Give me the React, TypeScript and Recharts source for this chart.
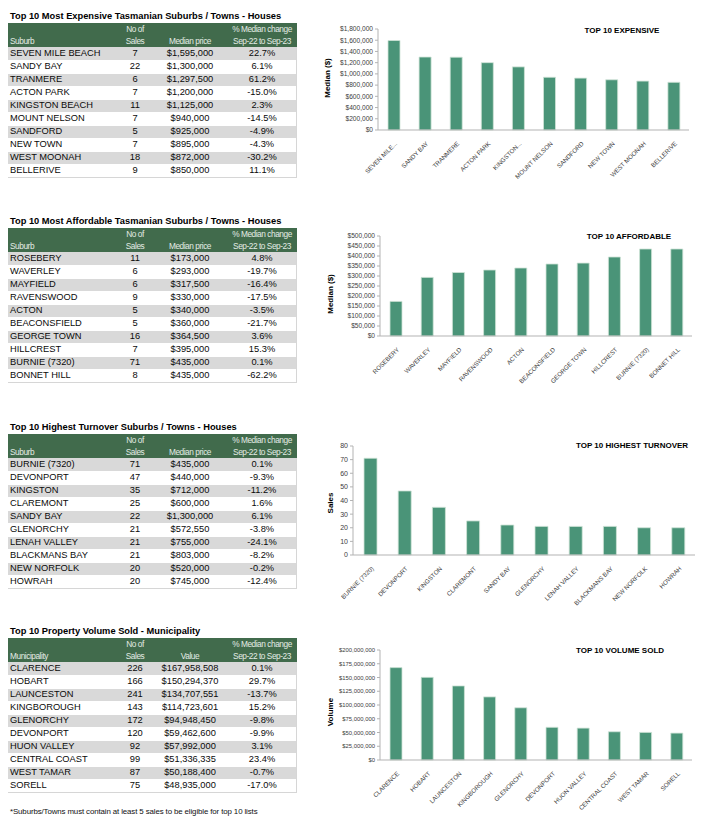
import React from 'react';
import { BarChart, Bar, XAxis, YAxis } from 'recharts';

// ---- data ----
const expensiveSuburbs = ['SEVEN MILE BEACH', 'SANDY BAY', 'TRANMERE', 'ACTON PARK', 'KINGSTON BEACH', 'MOUNT NELSON', 'SANDFORD', 'NEW TOWN', 'WEST MOONAH', 'BELLERIVE'];
const expensiveTickLabels = ['SEVEN MILE...', 'SANDY BAY', 'TRANMERE', 'ACTON PARK', 'KINGSTON...', 'MOUNT NELSON', 'SANDFORD', 'NEW TOWN', 'WEST MOONAH', 'BELLERIVE'];
const expensiveSales = [7, 22, 6, 7, 11, 7, 5, 7, 18, 9];
const expensivePrices = [1595000, 1300000, 1297500, 1200000, 1125000, 940000, 925000, 895000, 872000, 850000];
const expensiveChange = ['22.7%', '6.1%', '61.2%', '-15.0%', '2.3%', '-14.5%', '-4.9%', '-4.3%', '-30.2%', '11.1%'];

const affordableSuburbs = ['ROSEBERY', 'WAVERLEY', 'MAYFIELD', 'RAVENSWOOD', 'ACTON', 'BEACONSFIELD', 'GEORGE TOWN', 'HILLCREST', 'BURNIE (7320)', 'BONNET HILL'];
const affordableSales = [11, 6, 6, 9, 5, 5, 16, 7, 71, 8];
const affordablePrices = [173000, 293000, 317500, 330000, 340000, 360000, 364500, 395000, 435000, 435000];
const affordableChange = ['4.8%', '-19.7%', '-16.4%', '-17.5%', '-3.5%', '-21.7%', '3.6%', '15.3%', '0.1%', '-62.2%'];

const turnoverSuburbs = ['BURNIE (7320)', 'DEVONPORT', 'KINGSTON', 'CLAREMONT', 'SANDY BAY', 'GLENORCHY', 'LENAH VALLEY', 'BLACKMANS BAY', 'NEW NORFOLK', 'HOWRAH'];
const turnoverSales = [71, 47, 35, 25, 22, 21, 21, 21, 20, 20];
const turnoverPrices = [435000, 440000, 712000, 600000, 1300000, 572550, 755000, 803000, 520000, 745000];
const turnoverChange = ['0.1%', '-9.3%', '-11.2%', '1.6%', '6.1%', '-3.8%', '-24.1%', '-8.2%', '-0.2%', '-12.4%'];

const volumeMunicipalities = ['CLARENCE', 'HOBART', 'LAUNCESTON', 'KINGBOROUGH', 'GLENORCHY', 'DEVONPORT', 'HUON VALLEY', 'CENTRAL COAST', 'WEST TAMAR', 'SORELL'];
const volumeSales = [226, 166, 241, 143, 172, 120, 92, 99, 87, 75];
const volumeValues = [167958508, 150294370, 134707551, 114723601, 94948450, 59462600, 57992000, 51336335, 50188400, 48935000];
const volumeChange = ['0.1%', '29.7%', '-13.7%', '15.2%', '-9.8%', '-9.9%', '3.1%', '23.4%', '-0.7%', '-17.0%'];

const expensiveTicks = [0, 200000, 400000, 600000, 800000, 1000000, 1200000, 1400000, 1600000, 1800000];
const affordableTicks = [0, 50000, 100000, 150000, 200000, 250000, 300000, 350000, 400000, 450000, 500000];
const turnoverTicks = [0, 10, 20, 30, 40, 50, 60, 70, 80];
const volumeTicks = [0, 25000000, 50000000, 75000000, 100000000, 125000000, 150000000, 175000000, 200000000];

const GREEN = '#416B4C';
const BAR = '#4A9478';
const FONT = '"Liberation Sans", Arial, sans-serif';

const money = (v: number) => '$' + v.toLocaleString('en-US');

const Table = ({ top, title, firstHeader, valueHeader, names, sales, values, changes }: any) => (
  <div style={{ position: 'absolute', left: 8, top, width: 289, fontFamily: FONT }}>
    <div style={{ position: 'absolute', left: 2, top: -12, fontSize: 9.3, fontWeight: 'bold', lineHeight: '11px', whiteSpace: 'nowrap', color: '#000' }}>
      {title}
    </div>
    <div style={{ position: 'relative', height: 24, background: GREEN, color: '#e4ebe5', fontSize: 8.3, letterSpacing: -0.45, lineHeight: '12px' }}>
      <span style={{ position: 'absolute', left: 2, top: 12 }}>{firstHeader}</span>
      <span style={{ position: 'absolute', left: 97, width: 60, textAlign: 'center', top: 0 }}>No of<br />Sales</span>
      <span style={{ position: 'absolute', left: 142, width: 80, textAlign: 'center', top: 12 }}>{valueHeader}</span>
      <span style={{ position: 'absolute', left: 204, width: 100, textAlign: 'center', top: 0 }}>% Median change<br />Sep-22 to Sep-23</span>
    </div>
    <div style={{ borderRight: '1px solid #d6d6d6', borderBottom: '1px solid #d6d6d6' }}>
      {names.map((n: string, i: number) => (
        <div key={n} style={{ position: 'relative', height: 13, background: i % 2 === 0 ? '#D9D9D9' : '#fff', borderTop: i > 0 ? '1px solid #fff' : 'none', boxSizing: 'border-box', fontSize: 9.3, lineHeight: '13px', color: '#0a0a0a' }}>
          <span style={{ position: 'absolute', left: 2, top: i > 0 ? -1 : 0 }}>{n}</span>
          <span style={{ position: 'absolute', left: 97, width: 60, textAlign: 'center', top: i > 0 ? -1 : 0 }}>{sales[i]}</span>
          <span style={{ position: 'absolute', left: 137, width: 90, textAlign: 'center', top: i > 0 ? -1 : 0 }}>{money(values[i])}</span>
          <span style={{ position: 'absolute', left: 214, width: 80, textAlign: 'center', top: i > 0 ? -1 : 0 }}>{changes[i]}</span>
        </div>
      ))}
    </div>
  </div>
);

const SlantTick = ({ x, y, payload }: any) => (
  <text transform={`translate(${x + 4},${y + 6}) rotate(-45)`} textAnchor="end" fontSize={6.2} fill="#404040" fontFamily={FONT}>
    {payload.value}
  </text>
);

const ChartPanel = ({ top, plotTop, plotBottom, yWidth, rightEdge, labels, values, ticks, fmt, barSize, tickFont, title, titleX, titleY, yLabel, yLabelX, yLabelY }: any) => {
  const height = 190;
  const data = labels.map((l: string, i: number) => ({ label: l, value: values[i] }));
  return (
    <>
      <div style={{ position: 'absolute', left: 320, top }}>
        <BarChart width={389} height={height} data={data} margin={{ top: plotTop, right: 709 - rightEdge, left: 0, bottom: 0 }} barSize={barSize}>
          <XAxis dataKey="label" interval={0} height={height - plotBottom} tick={<SlantTick />} tickLine={false} axisLine={{ stroke: '#b3b3b3' }} />
          <YAxis
            width={yWidth}
            domain={[ticks[0], ticks[ticks.length - 1]]}
            ticks={ticks}
            interval={0}
            tickFormatter={fmt}
            tickSize={3}
            tickLine={{ stroke: '#b3b3b3' }}
            axisLine={{ stroke: '#b3b3b3' }}
            tick={{ fontSize: tickFont, fill: '#404040', fontFamily: FONT }}
          />
          <Bar dataKey="value" fill={BAR} stroke="#cfe3d7" strokeWidth={0.8} isAnimationActive={false} />
        </BarChart>
      </div>
      <div style={{ position: 'absolute', left: titleX, top: titleY, transform: 'translate(-50%,-50%)', fontFamily: FONT, fontSize: 8, fontWeight: 'bold', whiteSpace: 'nowrap' }}>
        {title}
      </div>
      <div style={{ position: 'absolute', left: yLabelX, top: yLabelY, transform: 'translate(-50%,-50%) rotate(-90deg)', fontFamily: FONT, fontSize: 8, fontWeight: 'bold', whiteSpace: 'nowrap' }}>
        {yLabel}
      </div>
    </>
  );
};

export default function App() {
  return (
    <div style={{ position: 'absolute', left: 0, top: 0, width: 709, height: 823, background: '#fff', fontFamily: FONT }}>
      <Table top={23} title="Top 10 Most Expensive Tasmanian Suburbs / Towns - Houses" firstHeader="Suburb" valueHeader="Median price"
        names={expensiveSuburbs} sales={expensiveSales} values={expensivePrices} changes={expensiveChange} />
      <Table top={228} title="Top 10 Most Affordable Tasmanian Suburbs / Towns - Houses" firstHeader="Suburb" valueHeader="Median price"
        names={affordableSuburbs} sales={affordableSales} values={affordablePrices} changes={affordableChange} />
      <Table top={434} title="Top 10 Highest Turnover Suburbs / Towns - Houses" firstHeader="Suburb" valueHeader="Median price"
        names={turnoverSuburbs} sales={turnoverSales} values={turnoverPrices} changes={turnoverChange} />
      <Table top={638} title="Top 10 Property Volume Sold - Municipality" firstHeader="Municipality" valueHeader="Value"
        names={volumeMunicipalities} sales={volumeSales} values={volumeValues} changes={volumeChange} />

      <ChartPanel top={0} plotTop={29} plotBottom={130} yWidth={58} rightEdge={689} labels={expensiveTickLabels} values={expensivePrices}
        ticks={expensiveTicks} fmt={money} barSize={12} tickFont={6.6} title="TOP 10 EXPENSIVE" titleX={622} titleY={30}
        yLabel="Median ($)" yLabelX={327} yLabelY={78} />
      <ChartPanel top={205} plotTop={31} plotBottom={131} yWidth={60} rightEdge={692} labels={affordableSuburbs} values={affordablePrices}
        ticks={affordableTicks} fmt={money} barSize={12} tickFont={6.6} title="TOP 10 AFFORDABLE" titleX={629} titleY={236}
        yLabel="Median ($)" yLabelX={330} yLabelY={294} />
      <ChartPanel top={425} plotTop={21} plotBottom={130} yWidth={33} rightEdge={695} labels={turnoverSuburbs} values={turnoverSales}
        ticks={turnoverTicks} fmt={(v: number) => String(v)} barSize={13} tickFont={7} title="TOP 10 HIGHEST TURNOVER" titleX={632} titleY={445}
        yLabel="Sales" yLabelX={330} yLabelY={503} />
      <ChartPanel top={630} plotTop={20} plotBottom={130} yWidth={60} rightEdge={692} labels={volumeMunicipalities} values={volumeValues}
        ticks={volumeTicks} fmt={money} barSize={12} tickFont={5.9} title="TOP 10 VOLUME SOLD" titleX={620} titleY={650}
        yLabel="Volume" yLabelX={330} yLabelY={712} />

      <div style={{ position: 'absolute', left: 10, top: 807, fontSize: 7.9, letterSpacing: -0.12, whiteSpace: 'nowrap', color: '#111' }}>
        *Suburbs/Towns must contain at least 5 sales to be eligible for top 10 lists
      </div>
    </div>
  );
}
